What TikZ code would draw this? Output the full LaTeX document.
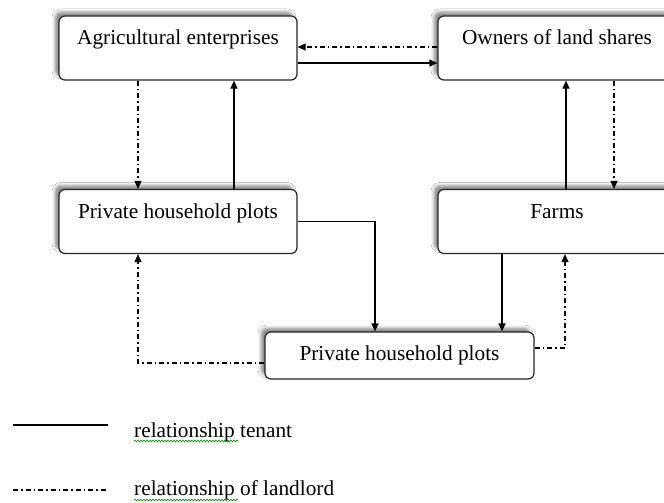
\documentclass[tikz,border=0pt]{standalone}
\usepackage{fontspec}
\setmainfont{Liberation Serif}
\usetikzlibrary{arrows.meta,shadows.blur,decorations.pathmorphing}
\tikzset{
  box/.style={draw=black!85, line width=1.2pt, fill=white, rounded corners=6pt,
    minimum width=238pt, minimum height=64pt, inner xsep=4pt, inner ysep=4pt,
    text height=25pt, text depth=31pt, font=\fontsize{21.3}{25}\selectfont,
    blur shadow={shadow xshift=-4pt, shadow yshift=4pt, shadow blur radius=3pt, shadow opacity=45}},
  lowbox/.style={box, minimum width=269pt, minimum height=47pt, text height=15pt, text depth=5pt},
  tenant/.style={line width=1.2pt, -{Triangle[length=8pt,width=7pt]}},
  landlord/.style={line width=1.1pt, dash pattern=on 5pt off 3pt on 1.5pt off 3pt, -{Triangle[length=8pt,width=7pt]}},
  legtext/.style={anchor=base west, inner sep=0pt, font=\fontsize{21.3}{25}\selectfont},
  spell/.style={draw=green!55!black, line width=0.6pt, decorate, decoration={snake, amplitude=0.9pt, segment length=3pt}}
}
\begin{document}
\begin{tikzpicture}[x=1pt,y=-1pt]
\clip (0,0) rectangle (664,503);
\fill[white] (0,0) rectangle (664,503);
\node[box] (b1) at (178,48) {Agricultural enterprises};
\node[box] (b2) at (557,48) {Owners of land shares};
\node[box] (b3) at (178,221.5) {Private household plots};
\node[box] (b4) at (557,221.5) {Farms};
\node[lowbox] (b5) at (399.5,355.5) {Private household plots};
% tenant (solid)
\draw[tenant] ([yshift=-15pt]b1.east) -- ([yshift=-15pt]b2.west);
\draw[tenant] ([xshift=56pt]b3.north) -- ([xshift=56pt]b1.south);
\draw[tenant] ([xshift=9pt]b4.north) -- ([xshift=9pt]b2.south);
\draw[tenant] (b3.east) -| ([xshift=-24.5pt]b5.north);
\draw[tenant] ([xshift=-55pt]b4.south) -- ([xshift=102.5pt]b5.north);
% landlord (dash-dot)
\draw[landlord] ([yshift=1pt]b2.west) -- ([yshift=1pt]b1.east);
\draw[landlord] ([xshift=-40pt]b1.south) -- ([xshift=-40pt]b3.north);
\draw[landlord] ([xshift=57pt]b2.south) -- ([xshift=57pt]b4.north);
\draw[landlord] ([yshift=7.5pt]b5.east) -| ([xshift=8pt]b4.south);
\draw[landlord] ([yshift=-7.5pt]b5.west) -| ([xshift=-40pt]b3.south);
% legend
\coordinate (l1a) at (13,425);
\coordinate (l1b) at (108,425);
\coordinate (l2a) at (13,490);
\coordinate (l2b) at (108,490);
\draw[line width=1.2pt] (l1a) -- (l1b);
\draw[line width=1.1pt, dash pattern=on 5pt off 3pt on 1.5pt off 3pt] (l2a) -- (l2b);
\node[legtext] (t1) at (134,437) {relationship tenant};
\node[legtext] (t2) at (134,495) {relationship of landlord};
\coordinate (s1a) at (134,441);
\coordinate (s1b) at (238,441);
\coordinate (s2a) at (134,500);
\coordinate (s2b) at (238,500);
\draw[spell] (s1a) -- (s1b);
\draw[spell] (s2a) -- (s2b);
\end{tikzpicture}
\end{document}
